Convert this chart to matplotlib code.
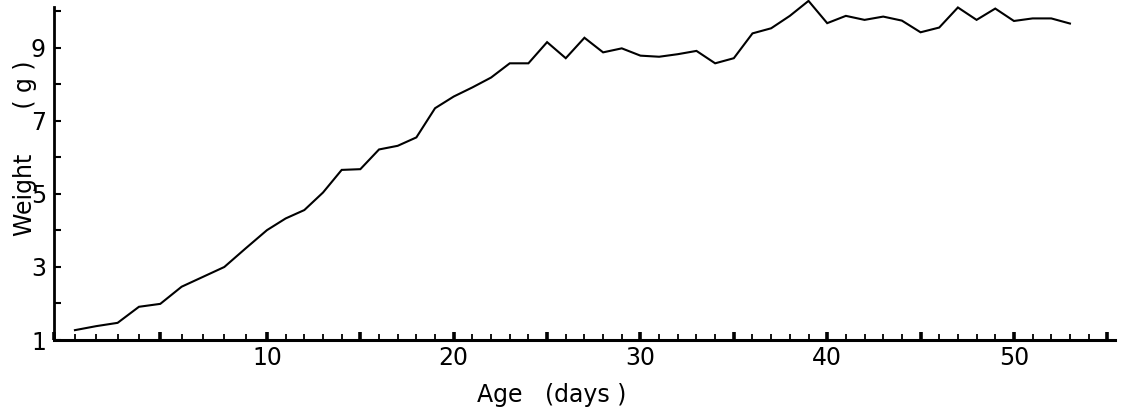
import numpy as np
import matplotlib
matplotlib.use("Agg")
import matplotlib.pyplot as plt
from matplotlib.ticker import MultipleLocator, FixedLocator, FuncFormatter

# --- body weight by age ---
age_days = [1, 2, 3, 4, 5, 6, 7, 8, 9, 10,
            11, 12, 13, 14, 15, 16, 17, 18, 19, 20,
            21, 22, 23, 24, 25, 26, 27, 28, 29, 30,
            31, 32, 33, 34, 35, 36, 37, 38, 39, 40,
            41, 42, 43, 44, 45, 46, 47, 48, 49, 50,
            51, 52, 53]
weight_g = [1.27, 1.38, 1.47, 1.91, 1.99, 2.46, 2.73, 3.00, 3.51, 4.01,
            4.33, 4.56, 5.04, 5.66, 5.68, 6.22, 6.32, 6.55, 7.35, 7.67,
            7.92, 8.19, 8.58, 8.58, 9.16, 8.72, 9.28, 8.88, 8.99, 8.79,
            8.76, 8.83, 8.92, 8.58, 8.72, 9.40, 9.54, 9.88, 10.29, 9.68,
            9.88, 9.77, 9.86, 9.75, 9.43, 9.56, 10.11, 9.77, 10.08, 9.74,
            9.81, 9.81, 9.67]

x_labels = [10, 20, 30, 40, 50]
y_labels = [1, 3, 5, 7, 9]

# the first ten days are drawn a bit wider than the rest of the axis
k_early = 1.1427

def fwd(x):
    x = np.asarray(x, dtype=float)
    return np.where(x < 10, x * k_early, 10 * k_early + (x - 10))

def inv(u):
    u = np.asarray(u, dtype=float)
    return np.where(u < 10 * k_early, u / k_early, u - 10 * k_early + 10)

plt.rcParams['font.family'] = ['DejaVu Sans']
FS = 17

fig = plt.figure(figsize=(11.23, 4.19), dpi=100)
ax = fig.add_axes([0.04773, 0.18854, 0.9451, 0.8115])

ax.plot(age_days, weight_g, color="black", lw=1.5, clip_on=False,
        solid_joinstyle="miter")

ax.set_xscale("function", functions=(fwd, inv))
ax.set_xlim(0, 55.41)
ax.set_ylim(1, 10.315)

for s in ["top", "right"]:
    ax.spines[s].set_visible(False)
ax.spines["bottom"].set_linewidth(2.2)
ax.spines["left"].set_linewidth(2.0)
ax.spines["left"].set_bounds(1, 10.12)

# x ticks: every day, heavier every five days, labels every ten
ax.xaxis.set_major_locator(MultipleLocator(5))
ax.xaxis.set_minor_locator(MultipleLocator(1))
ax.xaxis.set_major_formatter(FuncFormatter(
    lambda v, p: f"{int(round(v))}" if int(round(v)) in x_labels else ""))
ax.tick_params(axis="x", which="major", direction="in", length=6, width=2.6,
               pad=4, labelsize=FS)
ax.tick_params(axis="x", which="minor", direction="in", length=4.5, width=1.3)

# y ticks: every gram, labels on odd values
ax.yaxis.set_major_locator(FixedLocator(y_labels))
ax.yaxis.set_minor_locator(FixedLocator([2, 4, 6, 8, 10]))
ax.tick_params(axis="y", which="both", direction="in", length=5, width=1.5,
               pad=5.5, labelsize=FS)

ax.set_xlabel("Age   (days )", fontsize=FS)
ax.xaxis.set_label_coords(0.4696, -0.125)
ax.set_ylabel("Weight      ( g )", fontsize=FS, va="center")
ax.yaxis.set_label_coords(-0.0265, 0.563)

fig.savefig("out.png", dpi=100)
